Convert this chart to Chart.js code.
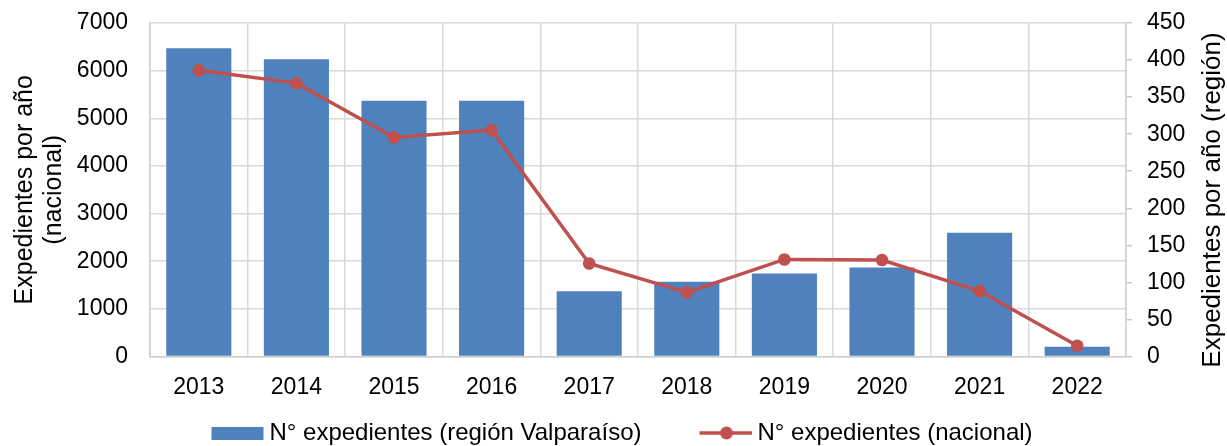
<!DOCTYPE html>
<html>
<head>
<meta charset="utf-8">
<script src="https://cdn.jsdelivr.net/npm/chart.js@4/dist/chart.umd.min.js"></script>
<style>
  html, body { margin: 0; padding: 0; background: #fff; }
  canvas { display: block; }
</style>
</head>
<body>
<canvas id="c" width="1227" height="446"></canvas>
<script>
// ---- data ----
const years = ['2013', '2014', '2015', '2016', '2017', '2018', '2019', '2020', '2021', '2022'];
const regionValues = [416, 401, 345, 345, 88, 101, 112, 120, 167, 13];
const nacionalValues = [6006, 5738, 4596, 4752, 1952, 1347, 2037, 2024, 1375, 226];
const leftTicks = [0, 1000, 2000, 3000, 4000, 5000, 6000, 7000];
const rightTicks = [0, 50, 100, 150, 200, 250, 300, 350, 400, 450];
const regionLabel = 'N° expedientes (región Valparaíso)';
const nacionalLabel = 'N° expedientes (nacional)';
const leftTitle = ['Expedientes por año', '(nacional)'];
const rightTitle = 'Expedientes por año (región)';

// ---- style ----
const FONT = "'Liberation Sans', Arial, sans-serif";
const BLUE = '#4F81BD';
const RED = '#C0504D';
const GRID = '#d9d9d9';
const LEG_FS = 24;
const LEG_W = 97;
const IMG_W = 111;

function legendImage(kind) {
  const cv = document.createElement('canvas');
  cv.width = IMG_W; cv.height = 18;
  const g = cv.getContext('2d');
  const x0 = IMG_W - 53;
  if (kind === 'bar') {
    g.fillStyle = BLUE;
    g.fillRect(x0, 3, 52, 13);
  } else {
    g.strokeStyle = RED; g.lineWidth = 3.5;
    g.beginPath(); g.moveTo(x0, 9); g.lineTo(x0 + 54, 9); g.stroke();
    g.fillStyle = RED;
    g.beginPath(); g.arc(x0 + 27, 9, 6.5, 0, Math.PI * 2); g.fill();
  }
  return cv;
}
const legendImgs = [legendImage('bar'), legendImage('line')];

const rightTitlePlugin = {
  id: 'rightTitle',
  afterDraw(chart) {
    const ctx = chart.ctx;
    ctx.save();
    ctx.translate(1213, 200);
    ctx.rotate(-Math.PI / 2);
    ctx.font = '26px ' + FONT;
    ctx.fillStyle = '#000';
    ctx.textAlign = 'center';
    ctx.textBaseline = 'middle';
    ctx.fillText(rightTitle, 0, 0);
    ctx.restore();
  }
};

function zeroPad(s) { s.paddingTop = 0; s.paddingBottom = 0; s.paddingLeft = 0; s.paddingRight = 0; }

new Chart(document.getElementById('c'), {
  type: 'bar',
  data: {
    labels: years,
    datasets: [
      {
        type: 'line',
        label: nacionalLabel,
        data: nacionalValues,
        yAxisID: 'yL',
        borderColor: RED,
        backgroundColor: RED,
        borderWidth: 3.5,
        pointRadius: 6.3,
        pointBackgroundColor: RED,
        pointBorderWidth: 0,
        tension: 0,
        order: 1
      },
      {
        type: 'bar',
        label: regionLabel,
        data: regionValues,
        yAxisID: 'yR',
        backgroundColor: BLUE,
        borderWidth: 0,
        categoryPercentage: 1,
        barPercentage: 0.667,
        order: 2
      }
    ]
  },
  options: {
    responsive: false,
    animation: false,
    devicePixelRatio: 1,
    layout: { padding: { top: 23, left: 0, right: 34, bottom: -9 } },
    plugins: {
      tooltip: { enabled: false },
      legend: {
        position: 'bottom',
        labels: {
          usePointStyle: true,
          pointStyleWidth: LEG_W,
          padding: 7,
          color: '#000',
          font: { family: FONT, size: LEG_FS },
          sort: (a, b) => b.datasetIndex - a.datasetIndex,
          generateLabels(chart) {
            const items = Chart.defaults.plugins.legend.labels.generateLabels(chart);
            items.forEach(it => { it.pointStyle = legendImgs[it.datasetIndex === 1 ? 0 : 1]; });
            return items;
          }
        }
      }
    },
    scales: {
      x: {
        offset: true,
        grid: { offset: true, color: GRID, lineWidth: 1.5, drawTicks: false },
        border: { color: '#d0d0d0', width: 1.5 },
        ticks: { color: '#000', font: { family: FONT, size: 23 }, padding: 17, maxRotation: 0 },
        afterFit(s) { s.height = 57.5; zeroPad(s); }
      },
      yL: {
        position: 'left',
        min: 0, max: 7000,
        afterBuildTicks(s) { s.ticks = leftTicks.map(v => ({ value: v })); },
        grid: { color: GRID, lineWidth: 1.5, drawTicks: false },
        border: { color: '#d0d0d0', width: 1.5 },
        ticks: { color: '#000', font: { family: FONT, size: 23 }, padding: 22, callback: v => String(v) },
        title: {
          display: true,
          text: leftTitle,
          color: '#000',
          font: { family: FONT, size: 25, lineHeight: 1.16 },
          padding: { top: 10.5, bottom: 0 }
        },
        afterFit(s) { s.width = 150; zeroPad(s); }
      },
      yR: {
        position: 'right',
        min: 0, max: 450,
        afterBuildTicks(s) { s.ticks = rightTicks.map(v => ({ value: v })); },
        grid: { drawOnChartArea: false, drawTicks: true, tickLength: 6, color: '#c8c8c8', lineWidth: 1.5 },
        border: { color: '#d0d0d0', width: 1.5 },
        ticks: { color: '#000', font: { family: FONT, size: 23 }, padding: 15, callback: v => String(v) },
        afterFit(s) { s.width = 67; zeroPad(s); }
      }
    }
  },
  plugins: [rightTitlePlugin]
});
</script>
</body>
</html>
